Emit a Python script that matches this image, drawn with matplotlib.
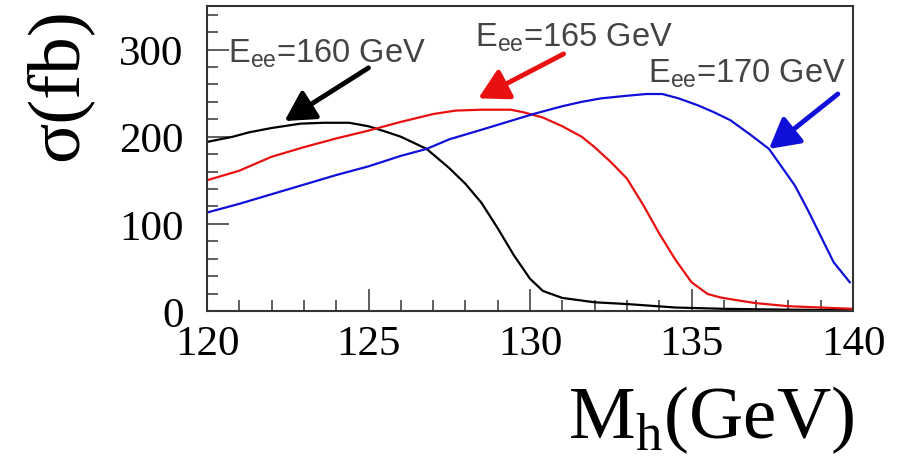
import matplotlib
matplotlib.use("Agg")
import matplotlib.pyplot as plt
from matplotlib.ticker import MultipleLocator

# ---- data ----
x_160 = [120.0, 120.8, 121.3, 122.0, 122.9, 123.6, 124.4, 125.0, 125.6, 126.0, 126.8, 127.5, 128.0,
         128.5, 129.0, 129.5, 130.0, 130.4, 131.0, 132.0, 133.0, 134.5, 136.0, 138.0, 140.0]
y_160 = [194, 200, 205, 210, 215, 216, 216, 212, 205, 200, 186, 164, 146,
         124, 95, 64, 37, 23, 15, 10, 8, 4, 2.5, 1.5, 1]

x_165 = [120.0, 121.0, 122.0, 123.0, 124.0, 125.0, 126.0, 127.0, 127.7, 128.5, 129.4, 129.8,
         130.4, 131.0, 131.6, 132.0, 132.5, 133.0, 133.5, 134.0, 134.5, 135.0, 135.5, 135.9,
         136.3, 137.0, 138.0, 139.0, 140.0]
y_165 = [150, 161, 177, 188, 198, 207, 217, 226, 230, 231, 231, 228,
         222, 212, 200, 188, 171, 152, 122, 89, 59, 33, 19.5, 15.5,
         13, 9, 5.5, 4, 2.5]

x_170 = [120.0, 121.0, 122.0, 123.0, 124.0, 125.0, 126.0, 126.8, 127.5, 128.5, 129.3, 130.1,
         131.0, 131.6, 132.2, 133.0, 133.6, 134.1, 134.6, 135.2, 135.7, 136.2, 136.8, 137.4,
         138.2, 138.6, 139.0, 139.4, 139.9]
y_170 = [113, 123, 134, 145, 156, 166, 178, 186, 197, 208, 217, 226,
         235, 240, 244, 247, 249, 249, 244, 236, 228, 219, 203, 186,
         144, 116, 86, 56, 33]

x_ticks = [120, 125, 130, 135, 140]
y_ticks = [0, 100, 200, 300]
labels = ["E$_{\\mathsf{ee}}$=160 GeV", "E$_{\\mathsf{ee}}$=165 GeV", "E$_{\\mathsf{ee}}$=170 GeV"]
colors = ["black", "#e81010", "#1010d8"]

plt.rcParams['mathtext.fontset'] = 'custom'
plt.rcParams['mathtext.rm'] = 'Liberation Serif'
plt.rcParams['mathtext.sf'] = 'Liberation Sans'

fig = plt.figure(figsize=(8.98, 4.64), dpi=100)
ax = fig.add_axes([207/898, 1-312/464, (853-207)/898, (312-7)/464])

for xs, ys, c in zip([x_160, x_165, x_170], [y_160, y_165, y_170], colors):
    ax.plot(xs, ys, color=c, lw=1.6)

ax.set_xlim(120, 140)
ax.set_ylim(0, 350)
ax.set_xticks(x_ticks)
ax.set_yticks(y_ticks)
ax.xaxis.set_minor_locator(MultipleLocator(1))
ax.yaxis.set_minor_locator(MultipleLocator(20))
ax.tick_params(which='both', direction='in', top=False, right=False, width=1.1, color='#333333')
ax.tick_params(which='major', length=16)
ax.tick_params(which='minor', length=8)
ax.tick_params(axis='x', pad=10)
ax.tick_params(axis='y', pad=17)
for lab in ax.get_xticklabels() + ax.get_yticklabels():
    lab.set_fontfamily('Liberation Serif')
    lab.set_fontsize(31)
for s in ax.spines.values():
    s.set_linewidth(1.5)
    s.set_color('#333333')

# annotations
txt_pos = [(120.65, 286), (128.31, 304.6), (133.64, 264)]
arrows = [((125.0, 279), (122.4, 218)), ((131.04, 295), (128.4, 244)), ((139.53, 249), (137.4, 186))]
for lab, (tx, ty), (tail, tip), c in zip(labels, txt_pos, arrows, colors):
    ax.text(tx, ty, lab, fontfamily='Liberation Sans', fontsize=23.5, color='#444444',
            ha='left', va='baseline', fontweight='light')
    ax.annotate('', xy=tip, xytext=tail,
                arrowprops=dict(arrowstyle='-|>,head_length=0.9,head_width=0.5',
                                mutation_scale=20, lw=3.5, color=c,
                                shrinkA=0, shrinkB=0))

fig.text(58/898, 1-85/464, "σ(fb)", rotation=90, ha='center', va='center',
         fontfamily='Liberation Serif', fontsize=54)
fig.text(711/898, 1-438/464, "M$_{\\mathrm{h}}$(GeV)", ha='center', va='baseline',
         fontfamily='Liberation Serif', fontsize=54)

fig.savefig("out.png", dpi=100)
